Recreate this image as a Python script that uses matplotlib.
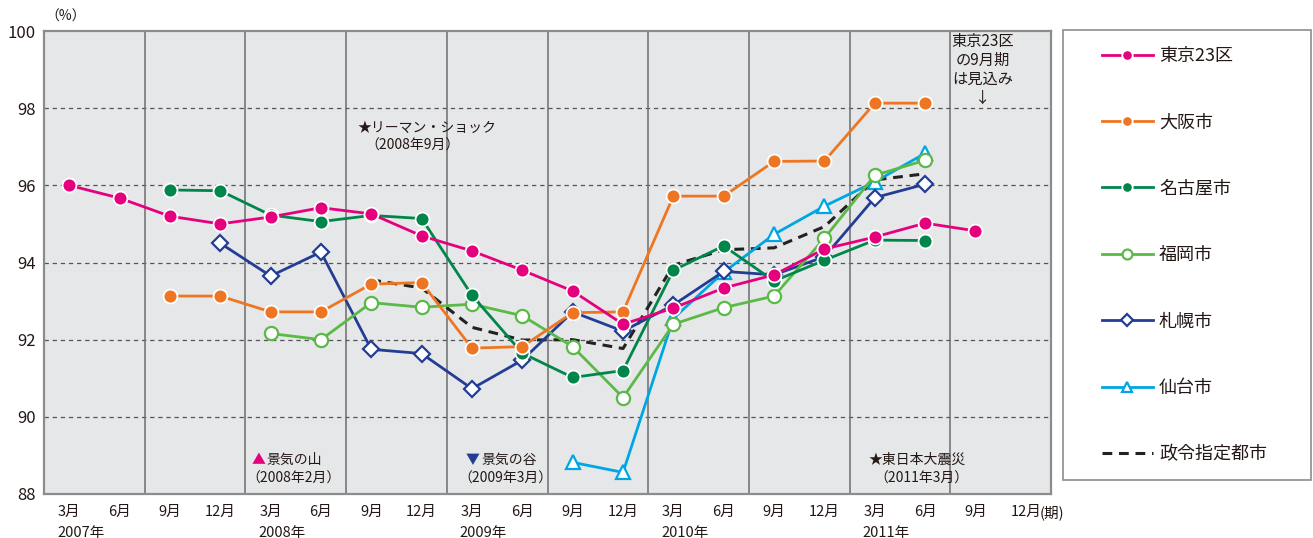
import numpy as np
import matplotlib
matplotlib.use('agg')
import matplotlib.pyplot as plt
from matplotlib.patches import Rectangle

plt.rcParams['font.family'] = ['Noto Sans CJK JP', 'DejaVu Sans']

nan = np.nan
# quarters from 2007/3 to 2011/12
months = ['3月', '6月', '9月', '12月'] * 5
years = ['2007年', '2008年', '2009年', '2010年', '2011年']

tokyo = [96.0, 95.67, 95.2, 95.0, 95.18, 95.42, 95.26, 94.69, 94.3, 93.8,
         93.26, 92.4, 92.82, 93.34, 93.68, 94.35, 94.66, 95.02, 94.82]
osaka = [nan, nan, 93.13, 93.13, 92.72, 92.72, 93.44, 93.48, 91.78, 91.82,
         92.70, 92.72, 95.72, 95.72, 96.62, 96.63, 98.13, 98.13, nan]
nagoya = [nan, nan, 95.88, 95.86, 95.23, 95.06, 95.22, 95.14, 93.15, 91.65,
          91.02, 91.2, 93.8, 94.43, 93.52, 94.06, 94.58, 94.57, nan]
fukuoka = [nan, nan, nan, nan, 92.16, 92.0, 92.96, 92.84, 92.92, 92.62,
           91.82, 90.5, 92.4, 92.83, 93.13, 94.63, 96.26, 96.65, nan]
sapporo = [nan, nan, nan, 94.5, 93.65, 94.27, 91.75, 91.64, 90.73, 91.47,
           92.72, 92.22, 92.9, 93.77, 93.68, 94.15, 95.68, 96.03, nan]
sendai = [nan, nan, nan, nan, nan, nan, nan, nan, nan, nan,
          88.82, 88.56, 92.55, 93.75, 94.73, 95.46, 96.09, 96.83, nan]
seirei = [nan, nan, nan, nan, nan, nan, 93.55, 93.34, 92.32, 91.99,
          92.0, 91.77, 93.93, 94.33, 94.38, 94.93, 96.14, 96.3, nan]

fig = plt.figure(figsize=(13.13, 5.38), dpi=100)
ax = fig.add_axes([44 / 1313, 44 / 538, 1007 / 1313, 463 / 538])
ax.set_facecolor('#E6E7E8')

x = np.arange(len(tokyo))

# grid: dashed horizontals, solid verticals every half year
for yv in [90, 92, 94, 96, 98]:
    ax.axhline(yv, color='#555555', lw=0.9, ls=(0, (3.5, 3)), zorder=1)
for xv in np.arange(1.5, 19, 2):
    ax.axvline(xv, color='#6d6d6d', lw=1.1, zorder=1)

ax.plot(x, seirei, color='#222222', lw=2.2, dashes=(3.2, 2.2), zorder=2,
        label='政令指定都市')

series = [
    (sendai, '#00A6E4', '^', 'white', 10, '仙台市', 3),
    (sapporo, '#233D95', 'D', 'white', 8.5, '札幌市', 4),
    (fukuoka, '#5BB947', 'o', 'white', 9.5, '福岡市', 5),
    (nagoya, '#00864B', 'o', None, 10, '名古屋市', 6),
    (osaka, '#EE7623', 'o', None, 10, '大阪市', 7),
    (tokyo, '#E5007E', 'o', None, 10, '東京23区', 8),
]
for vals, col, mk, face, ms, name, z in series:
    if face is None:
        ax.plot(x, vals, color=col, lw=2, marker=mk, ms=ms, mfc=col,
                mec='white', mew=1.3, zorder=z, label=name)
    else:
        ax.plot(x, vals, color=col, lw=2, marker=mk, ms=ms, mfc=face,
                mec=col, mew=1.6, zorder=z, label=name)

ax.set_xlim(-0.5, 19.5)
ax.set_ylim(88, 100)
ax.set_yticks(np.arange(88, 101, 2))
ax.tick_params(axis='y', length=0, pad=6, labelsize=12, colors='#231815')
ax.set_xticks(np.arange(20))
ax.set_xticklabels(months)
ax.tick_params(axis='x', length=0, pad=8, labelsize=10.5, colors='#231815')
for s in ax.spines.values():
    s.set_color('#8c8c8c')
    s.set_linewidth(1.6)

for i, yr in enumerate(years):
    ax.text(i * 4 - 0.24, -0.085, yr, transform=ax.get_xaxis_transform(),
            ha='left', va='center', fontsize=10.5, color='#231815')
ax.text(19.27, -0.04, '(期)', transform=ax.get_xaxis_transform(),
        ha='left', va='center', fontsize=10.5, color='#231815')

fig.text(66 / 1313, 1 - 17 / 538, '（%）', ha='center', va='center',
         fontsize=10, color='#231815')

txt = dict(fontsize=10, color='#231815', va='center', ha='left', zorder=9)
ax.text(5.73, 97.49, '★リーマン・ショック', **txt)
ax.text(5.88, 97.02, '（2008年9月）', **txt)
ax.text(3.62, 88.88, '▲', fontsize=10, color='#E5007E', va='center', ha='left')
ax.text(3.92, 88.88, '景気の山', **txt)
ax.text(3.52, 88.41, '（2008年2月）', **txt)
ax.text(7.88, 88.88, '▼', fontsize=10, color='#233D95', va='center', ha='left')
ax.text(8.18, 88.88, '景気の谷', **txt)
ax.text(7.72, 88.41, '（2009年3月）', **txt)
ax.text(15.88, 88.88, '★東日本大震災', **txt)
ax.text(16.0, 88.41, '（2011年3月）', **txt)
ax.text(18.15, 99.0, '東京23区\nの9月期\nは見込み\n↓', fontsize=11,
        color='#231815', ha='center', va='center', linespacing=1.15)

# legend in a separate framed box
fig.patches.append(Rectangle((1063 / 1313, 1 - 480 / 538), 248 / 1313,
                             450 / 538, transform=fig.transFigure,
                             fill=False, ec='#8c8c8c', lw=1.2))
h, l = ax.get_legend_handles_labels()
order = ['東京23区', '大阪市', '名古屋市', '福岡市', '札幌市', '仙台市', '政令指定都市']
hd = dict(zip(l, h))
fig.legend([hd[k] for k in order], order, loc='upper left',
           bbox_to_anchor=(1102 / 1313, 1 - 47 / 538), frameon=False,
           fontsize=13, labelspacing=2.68, handlelength=2.8,
           handletextpad=0.35, borderpad=0, borderaxespad=0,
           markerscale=0.75, labelcolor='#231815')

fig.savefig('out.png', dpi=100)
